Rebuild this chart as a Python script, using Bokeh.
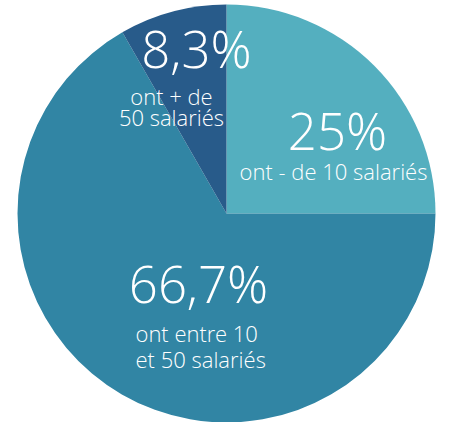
import math
from bokeh.plotting import figure
from bokeh.models import Range1d, ColumnDataSource
from bokeh.core.properties import value
from bokeh.embed import file_html
from bokeh.resources import INLINE

# ---- data ----
labels_pct = ["25%", "66,7%", "8,3%"]
shares = [25.0, 66.7, 8.3]
descriptions = ["ont - de 10 salariés", "ont entre 10\net 50 salariés", "ont + de\n50 salariés"]
colors = ["#54afbf", "#3185a4", "#285b8a"]

# ---- layout ----
W, H = 445, 422
cx, cy, R = 226, 209, 209
pct_pos = [(337, 293), (198, 140), (196, 375)]       # centre of big number
desc_pos = [(333, 252), (135, 76.5), (171, 316.5)]  # centre of description block
desc_align = ["center", "left", "center"]
desc_lh = [1.0, 0.84, 0.70]
FONT = "Open Sans Light"

total = sum(shares)
starts, ends = [], []
cum = 0.0
for s in shares:
    a0 = math.pi / 2 - (cum + s) / total * 2 * math.pi
    a1 = math.pi / 2 - cum / total * 2 * math.pi
    starts.append(a0)
    ends.append(a1)
    cum += s

src = ColumnDataSource(dict(start=starts, end=ends, color=colors))

p = figure(width=W, height=H, output_backend="svg", toolbar_location=None,
           x_range=Range1d(0, W), y_range=Range1d(0, H),
           min_border=0)
p.axis.visible = False
p.grid.visible = False
p.outline_line_color = None
p.background_fill_color = "white"

p.wedge(x=cx, y=cy, radius=R, start_angle="start", end_angle="end",
        fill_color="color", line_color=None, source=src)

for i in range(3):
    p.text(x=[pct_pos[i][0]], y=[pct_pos[i][1]], text=[labels_pct[i]],
           text_color="white", text_font=value(FONT),
           text_font_size="51px", text_align="center", text_baseline="middle")
    p.text(x=[desc_pos[i][0]], y=[desc_pos[i][1]], text=[descriptions[i]],
           text_color="white", text_font=value(FONT),
           text_font_size="22px", text_align=desc_align[i], text_baseline="middle",
           text_line_height=desc_lh[i])

open("out.html", "w").write(file_html(p, INLINE))
